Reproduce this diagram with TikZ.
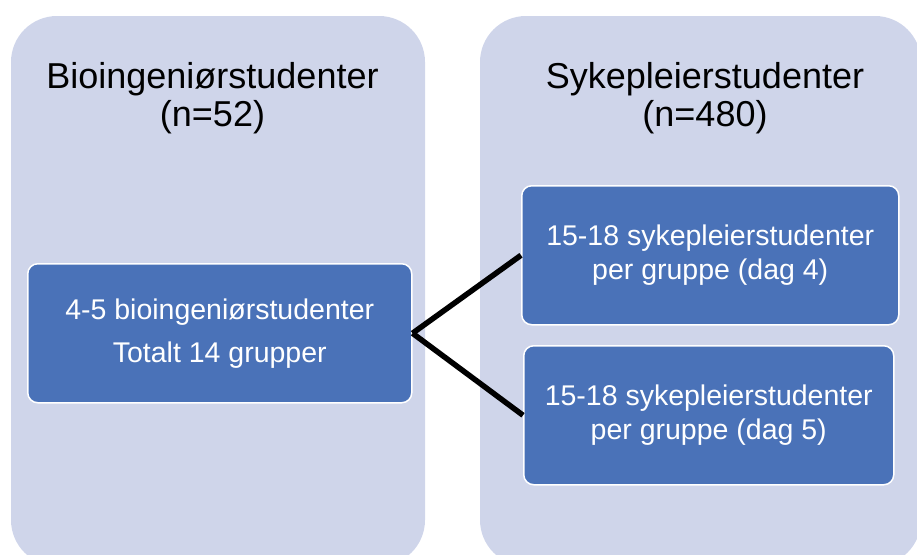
\documentclass[tikz,border=0pt]{standalone}
\usepackage{fontspec}
\setmainfont{Liberation Sans}
\definecolor{panelbg}{HTML}{CFD5EA}
\definecolor{boxbg}{HTML}{4A72B8}
\begin{document}
\begin{tikzpicture}[x=1pt,y=-1pt,
  panel/.style={fill=panelbg, draw=none, rounded corners=46pt},
  title/.style={font=\fontsize{36}{38}\selectfont, align=center, inner sep=0pt, text=black},
  groupbox/.style={fill=boxbg, draw=white, line width=1.5pt, rounded corners=10pt,
    text=white, align=center, inner sep=0pt, anchor=north west},
  link/.style={line width=5.5pt, black}]
\useasboundingbox (0,0) rectangle (917,554);
\begin{scope}
\clip (0,0) rectangle (917,554);
\fill[panel] (11,16) rectangle (425,566);
\fill[panel] (480,16) rectangle (921,566);
\end{scope}
\node[title] (t1) at (212.5,98) {Bioingeniørstudenter\\(n=52)};
\node[title] (t2) at (705,98) {Sykepleierstudenter\\(n=480)};
\node[groupbox, minimum width=384pt, minimum height=139pt,
  font=\fontsize{28.5}{43}\selectfont] (b1) at (27,263)
  {4-5 bioingeniørstudenter\\Totalt 14 grupper};
\node[groupbox, minimum width=377pt, minimum height=139pt,
  font=\fontsize{28.5}{34}\selectfont] (b2) at (521,185)
  {15-18 sykepleierstudenter\\per gruppe (dag 4)};
\node[groupbox, minimum width=370pt, minimum height=139pt,
  font=\fontsize{28.5}{34}\selectfont] (b3) at (523,345)
  {15-18 sykepleierstudenter\\per gruppe (dag 5)};
\draw[link] (b1.east) -- (b2.west);
\draw[link] (b1.east) -- (b3.west);
\end{tikzpicture}
\end{document}
